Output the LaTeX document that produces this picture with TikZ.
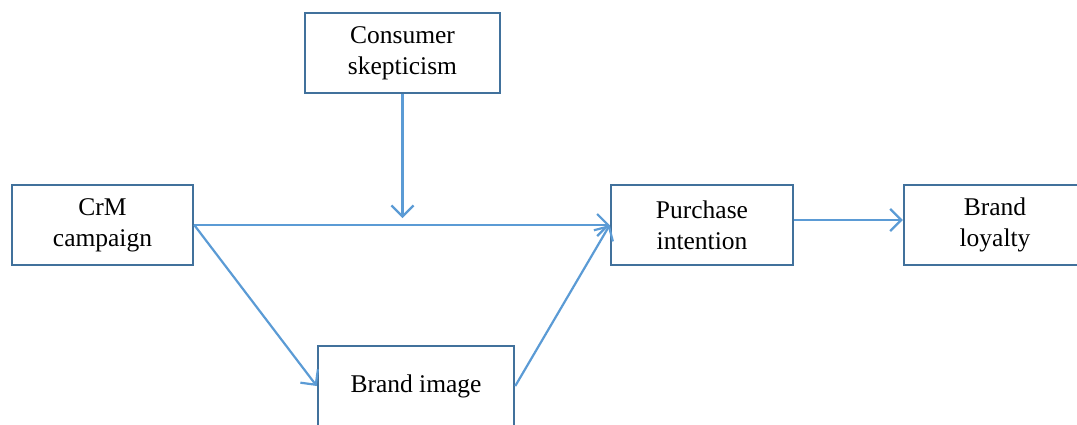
\documentclass[tikz,border=0pt]{standalone}
\usepackage{fontspec}
\setmainfont{Liberation Serif}
\usetikzlibrary{arrows.meta}

\definecolor{boxblue}{HTML}{41719C}
\definecolor{lineblue}{HTML}{5B9BD5}

\begin{document}
\begin{tikzpicture}[x=1pt, y=-1pt,
	varbox/.style={draw=boxblue, line width=2.5pt, fill=white, inner sep=0pt,
		align=center, font=\fontsize{25.5}{31}\selectfont},
	link/.style={draw=lineblue, line width=2.2pt, -{Straight Barb[length=11pt, width=22pt, line width=2.2pt]}}]
	\useasboundingbox (0,0) rectangle (1077,424);
	
	% Variables
	\node[varbox, minimum width=195pt, minimum height=80pt] (skep) at (402.5, 53) {Consumer\\skepticism};
	\node[varbox, minimum width=181pt, minimum height=80pt] (crm) at (102.5, 225) {CrM\\campaign};
	\node[varbox, minimum width=182pt, minimum height=80pt] (intent) at (702, 225) {Purchase\\intention};
	\node[varbox, minimum width=182pt, minimum height=80pt] (loyal) at (995, 225) {Brand\\loyalty};
	\node[varbox, minimum width=196pt, minimum height=80pt] (image) at (416, 386) {Brand image};
	
	% Moderation point on the direct path
	\coordinate (mod) at (402.5, 218);
	
	% Paths
	\draw[link] (crm.east) -- (intent.west);
	\draw[link] (skep.south) -- (mod);
	\draw[link] (crm.east) -- (image.west);
	\draw[link] (image.east) -- (intent.west);
	\draw[link] ([yshift=5pt]intent.east) -- ([yshift=5pt]loyal.west);
\end{tikzpicture}
\end{document}
